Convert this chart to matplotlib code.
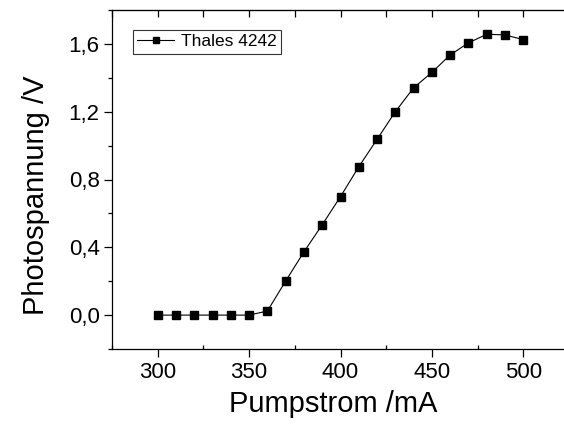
import numpy as np
import matplotlib
matplotlib.use('Agg')
import matplotlib.pyplot as plt
from matplotlib.ticker import MultipleLocator, FuncFormatter

plt.rcParams['font.family'] = ['Liberation Sans', 'DejaVu Sans']

# Pumpstrom (mA) und gemessene Photospannung (V)
strom = [300, 310, 320, 330, 340, 350, 360, 370, 380, 390, 400,
         410, 420, 430, 440, 450, 460, 470, 480, 490, 500]
spannung = [0.0, 0.0, 0.0, 0.0, 0.0, 0.0, 0.024, 0.201, 0.373, 0.533, 0.699,
            0.875, 1.037, 1.20, 1.341, 1.432, 1.535, 1.606, 1.657, 1.653, 1.625]
label = 'Thales 4242'

fig = plt.figure(figsize=(5.64, 4.28), dpi=100)
ax = fig.add_axes([112 / 564, 79 / 428, 457 / 564, 339 / 428])

ax.plot(strom, spannung, color='black', linewidth=0.8, marker='s',
        markersize=5.8, markerfacecolor='black', markeredgecolor='black',
        label=label)

ax.set_xlim(275, 525)
ax.set_ylim(-0.2, 1.8)
ax.xaxis.set_major_locator(MultipleLocator(50))
ax.xaxis.set_minor_locator(MultipleLocator(25))
ax.yaxis.set_major_locator(MultipleLocator(0.4))
ax.yaxis.set_minor_locator(MultipleLocator(0.2))
ax.yaxis.set_major_formatter(FuncFormatter(lambda v, p: f'{v:.1f}'.replace('.', ',').replace('-0,0', '0,0')))

for s in ax.spines.values():
    s.set_linewidth(0.9)

ax.tick_params(axis='both', which='major', labelsize=16, width=0.9, length=6,
               direction='out', pad=3)
ax.tick_params(axis='both', which='minor', width=0.9, length=3, direction='out')
ax.tick_params(axis='x', which='minor', direction='in')
# mirrored ticks on top and right
ax2 = ax.secondary_xaxis('top')
ax2.xaxis.set_major_locator(MultipleLocator(25))
ax2.tick_params(direction='in', length=5, width=0.9, labeltop=False)
ax2.set_xticklabels([])
ax3 = ax.secondary_yaxis('right')
ax3.yaxis.set_major_locator(MultipleLocator(0.2))
ax3.tick_params(direction='in', length=3, width=0.9)
ax3.set_yticklabels([])

ax.set_xlabel('Pumpstrom /mA', fontsize=21)
ax.set_ylabel('Photospannung /V', fontsize=21)
ax.xaxis.set_label_coords(0.485, -0.121)
ax.yaxis.set_label_coords(-0.136, 0.453)

leg = ax.legend(loc='upper left', bbox_to_anchor=(0.046, 0.941), borderaxespad=0,
                fontsize=12.5, frameon=True, fancybox=False, handlelength=2.1,
                handletextpad=0.4, borderpad=0.25, markerscale=0.85)
leg.get_frame().set_edgecolor('black')
leg.get_frame().set_linewidth(0.8)

fig.savefig('out.png', dpi=100)
